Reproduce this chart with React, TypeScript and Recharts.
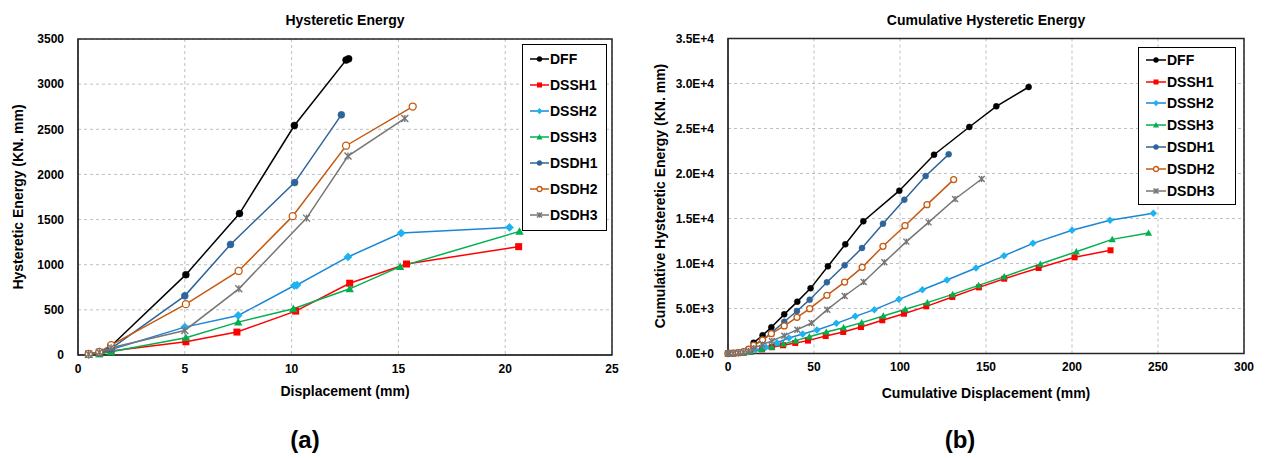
import React from 'react';
import {
  LineChart,
  Line,
  XAxis,
  YAxis,
  CartesianGrid,
  ReferenceArea,
} from 'recharts';

const FONT = '"Liberation Sans", Arial, sans-serif';

type Pt = { x: number; y: number };
const pts = (rows: number[][]): Pt[] => rows.map(([x, y]) => ({ x, y }));

// (a) hysteretic energy per displacement level
const dffHE = pts([[0.5, 10], [1.0, 30], [1.55, 100], [5.05, 890], [7.56, 1567], [10.13, 2542], [12.55, 3267], [12.67, 3280]]);
const dssh1HE = pts([[0.5, 5], [1.0, 15], [1.55, 45], [5.05, 147], [7.44, 254], [10.19, 486], [12.72, 795], [15.38, 1008], [20.63, 1200]]);
const dssh2HE = pts([[0.5, 5], [1.0, 20], [1.55, 60], [5.0, 309], [7.5, 438], [10.13, 769], [10.25, 775], [12.64, 1086], [15.13, 1351], [20.2, 1413]]);
const dssh3HE = pts([[0.5, 5], [1.0, 12], [1.55, 35], [5.05, 192], [7.5, 364], [10.08, 512], [12.72, 733], [15.08, 979], [20.67, 1369]]);
const dsdh1HE = pts([[0.5, 10], [1.0, 25], [1.55, 70], [5.0, 655], [7.14, 1225], [10.14, 1910], [12.33, 2660]]);
const dsdh2HE = pts([[0.5, 12], [1.0, 35], [1.55, 110], [5.05, 563], [7.52, 931], [10.05, 1538], [12.55, 2318], [15.67, 2752]]);
const dsdh3HE = pts([[0.5, 10], [1.0, 30], [1.55, 80], [5.0, 272], [7.53, 733], [10.7, 1516], [12.64, 2204], [15.3, 2620]]);

// (b) cumulative hysteretic energy vs cumulative displacement
const dffCum = pts([[0, 0], [1, 10], [3, 40], [6, 100], [9, 200], [12, 500], [14.9, 1200], [20.1, 2020], [25.2, 2910], [32.7, 4350], [40.3, 5760], [48.0, 7240], [58.1, 9690], [68.2, 12130], [78.7, 14690], [99.6, 18090], [119.8, 22090], [140.3, 25170], [156.0, 27460], [174.8, 29610]]);
const dssh1Cum = pts([[0, 0], [1, 5], [3, 15], [6, 35], [9, 70], [13, 180], [19.8, 460], [25.5, 700], [32, 910], [39.1, 1170], [46.5, 1430], [56.8, 1940], [67, 2390], [77.3, 2940], [89.7, 3690], [102.3, 4420], [115.3, 5240], [130.4, 6280], [145.9, 7350], [160.6, 8310], [180.6, 9500], [201.5, 10690], [222.4, 11470]]);
const dssh2Cum = pts([[0, 0], [1, 5], [3, 20], [6, 50], [9, 100], [12, 200], [16, 400], [22, 700], [28.5, 1200], [35.4, 1720], [43.4, 2170], [51.7, 2610], [63.0, 3350], [74.0, 4130], [85.1, 4870], [99.4, 6020], [113.0, 7090], [127.3, 8170], [144.2, 9500], [160.5, 10870], [177.3, 12240], [200.0, 13690], [222.1, 14800], [247.3, 15580]]);
const dssh3Cum = pts([[0, 0], [1, 5], [3, 15], [6, 40], [9, 80], [13, 200], [19.5, 500], [25.5, 750], [32.2, 1060], [39.3, 1430], [47.3, 1870], [57.2, 2390], [67.2, 2870], [77.7, 3430], [90.3, 4170], [103.1, 4910], [115.9, 5650], [130.6, 6570], [145.7, 7570], [160.6, 8540], [181.6, 9940], [202.5, 11310], [223.4, 12680], [244.5, 13390]]);
const dsdh1Cum = pts([[0, 0], [1, 10], [3, 40], [6, 100], [9, 200], [12, 450], [14.9, 900], [20.1, 1500], [25.2, 2300], [32.7, 3530], [40.1, 4720], [47.5, 5980], [57.5, 7910], [67.8, 9800], [77.9, 11720], [90.1, 14420], [102.5, 17090], [114.9, 19720], [128.3, 22130]]);
const dsdh2Cum = pts([[0, 0], [1, 10], [3, 40], [6, 100], [9, 200], [12, 450], [14.9, 900], [20.1, 1500], [25.2, 2200], [32.7, 3060], [40.1, 4020], [47.5, 4980], [57.5, 6460], [67.8, 7940], [78.0, 9570], [90.1, 11910], [102.9, 14200], [115.7, 16540], [131.2, 19320]]);
const dsdh3Cum = pts([[0, 0], [1, 10], [3, 30], [6, 80], [9, 150], [12, 300], [15, 600], [20, 1000], [25.5, 1400], [32.7, 1980], [40.3, 2650], [48.6, 3390], [57.7, 4870], [67.8, 6390], [78.9, 7940], [90.9, 10130], [103.7, 12430], [116.6, 14570], [132, 17170], [147.5, 19390]]);

const xTicksA = [0, 5, 10, 15, 20, 25];
const yTicksA = [0, 500, 1000, 1500, 2000, 2500, 3000, 3500];
const xTicksB = [0, 50, 100, 150, 200, 250, 300];
const yTicksB = [0, 5000, 10000, 15000, 20000, 25000, 30000, 35000];

type Marker = 'circle' | 'hollow' | 'square' | 'diamond' | 'triangle' | 'star';

interface SeriesDef {
  name: string;
  line: string;
  fill: string;
  marker: Marker;
}

const SERIES: SeriesDef[] = [
  { name: 'DFF', line: '#000000', fill: '#000000', marker: 'circle' },
  { name: 'DSSH1', line: '#FF0000', fill: '#FF0000', marker: 'square' },
  { name: 'DSSH2', line: '#1B86D6', fill: '#1CB4F0', marker: 'diamond' },
  { name: 'DSSH3', line: '#00B050', fill: '#00B050', marker: 'triangle' },
  { name: 'DSDH1', line: '#2E6499', fill: '#2E6499', marker: 'circle' },
  { name: 'DSDH2', line: '#C55A11', fill: '#FFFFFF', marker: 'hollow' },
  { name: 'DSDH3', line: '#767676', fill: '#767676', marker: 'star' },
];

const dataA = [dffHE, dssh1HE, dssh2HE, dssh3HE, dsdh1HE, dsdh2HE, dsdh3HE];
const dataB = [dffCum, dssh1Cum, dssh2Cum, dssh3Cum, dsdh1Cum, dsdh2Cum, dsdh3Cum];

function MarkerShape({ s, cx, cy, r }: { s: SeriesDef; cx: number; cy: number; r: number }) {
  switch (s.marker) {
    case 'circle':
      return <circle cx={cx} cy={cy} r={r} fill={s.fill} stroke={s.line} strokeWidth={0.5} />;
    case 'hollow':
      return <circle cx={cx} cy={cy} r={r} fill="#fff" stroke={s.line} strokeWidth={1.3} />;
    case 'square':
      return <rect x={cx - r} y={cy - r} width={2 * r} height={2 * r} fill={s.fill} />;
    case 'diamond': {
      const d = r * 1.25;
      return <polygon points={`${cx},${cy - d} ${cx + d},${cy} ${cx},${cy + d} ${cx - d},${cy}`} fill={s.fill} />;
    }
    case 'triangle': {
      const d = r * 1.2;
      return <polygon points={`${cx},${cy - d} ${cx + d},${cy + d * 0.8} ${cx - d},${cy + d * 0.8}`} fill={s.fill} />;
    }
    case 'star': {
      const d = r;
      return (
        <g stroke={s.line} strokeWidth={1.4}>
          <line x1={cx - d} y1={cy - d} x2={cx + d} y2={cy + d} />
          <line x1={cx - d} y1={cy + d} x2={cx + d} y2={cy - d} />
          <line x1={cx} y1={cy - d} x2={cx} y2={cy + d} />
        </g>
      );
    }
  }
  return null;
}

const dotFor = (s: SeriesDef, r: number) => (props: any) => {
  const { cx, cy, index } = props;
  if (cx == null || cy == null) return <g key={`d${index}`} />;
  return (
    <g key={`d${index}`}>
      <MarkerShape s={s} cx={cx} cy={cy} r={r} />
    </g>
  );
};

const tickStyle = { fontSize: 12, fontWeight: 700, fill: '#000', fontFamily: FONT };

function LegendBox({ left, top, width, rowH, lineW }: { left: number; top: number; width: number; rowH: number; lineW: number }) {
  return (
    <div
      style={{
        position: 'absolute',
        left,
        top,
        width,
        background: '#fff',
        border: '1.5px solid #000',
        boxSizing: 'border-box',
        padding: '1px 0 2px 7px',
        fontFamily: FONT,
        fontWeight: 700,
        fontSize: 14,
      }}
    >
      {SERIES.map((s) => (
        <div key={s.name} style={{ height: rowH, display: 'flex', alignItems: 'center' }}>
          <svg width={lineW} height={10} style={{ display: 'block' }}>
            <line x1={0} y1={5} x2={lineW} y2={5} stroke={s.line} strokeWidth={1.5} />
            <MarkerShape s={s} cx={lineW / 2} cy={5} r={2.5} />
          </svg>
          <span style={{ marginLeft: 1 }}>{s.name}</span>
        </div>
      ))}
    </div>
  );
}

const textBase: React.CSSProperties = {
  position: 'absolute',
  fontFamily: FONT,
  fontWeight: 700,
  whiteSpace: 'nowrap',
  color: '#000',
};

function Label({ text, x, y, size, rotate }: { text: string; x: number; y: number; size: number; rotate?: boolean }) {
  return (
    <div
      style={{
        ...textBase,
        left: x,
        top: y,
        fontSize: size,
        transform: `translate(-50%, -50%)${rotate ? ' rotate(-90deg)' : ''}`,
      }}
    >
      {text}
    </div>
  );
}

const expFmt = (v: number) => v.toExponential(1).replace('e', 'E');

export default function App() {
  return (
    <div style={{ position: 'absolute', left: 0, top: 0, width: 1267, height: 458, background: '#fff' }}>
      <div style={{ position: 'absolute', left: 0, top: 0 }}>
        <LineChart width={640} height={400} margin={{ top: 39, right: 28, left: 0, bottom: 14 }}>
          <CartesianGrid stroke="#BFBFBF" strokeDasharray="3 3" />
          <XAxis type="number" dataKey="x" domain={[0, 25]} ticks={xTicksA} tick={tickStyle} tickLine={false} tickSize={6} tickMargin={3} height={31} axisLine={{ stroke: '#262626' }} allowDuplicatedCategory={false} />
          <YAxis type="number" dataKey="y" domain={[0, 3500]} ticks={yTicksA} tick={tickStyle} tickLine={false} tickSize={6} tickMargin={8} width={78} axisLine={{ stroke: '#262626' }} />
          <ReferenceArea x1={0} x2={25} y1={0} y2={3500} fill="none" stroke="#262626" strokeWidth={1.5} />
          {SERIES.map((s, i) => (
            <Line key={s.name} data={dataA[i]} dataKey="y" name={s.name} type="linear" stroke={s.line} strokeWidth={1.5} dot={dotFor(s, 3.5)} activeDot={false} isAnimationActive={false} />
          ))}
        </LineChart>
      </div>
      <div style={{ position: 'absolute', left: 640, top: 0 }}>
        <LineChart width={627} height={400} margin={{ top: 38.5, right: 23, left: 0, bottom: 15.5 }}>
          <CartesianGrid stroke="#BFBFBF" strokeDasharray="3 3" />
          <XAxis type="number" dataKey="x" domain={[0, 300]} ticks={xTicksB} tick={tickStyle} tickLine={false} tickSize={6} tickMargin={3} height={31} axisLine={{ stroke: '#262626' }} allowDuplicatedCategory={false} />
          <YAxis type="number" dataKey="y" domain={[0, 35000]} ticks={yTicksB} tickFormatter={expFmt} tick={tickStyle} tickLine={false} tickSize={6} tickMargin={8} width={88} axisLine={{ stroke: '#262626' }} />
          <ReferenceArea x1={0} x2={300} y1={0} y2={35000} fill="none" stroke="#262626" strokeWidth={1.5} />
          {SERIES.map((s, i) => (
            <Line key={s.name} data={dataB[i]} dataKey="y" name={s.name} type="linear" stroke={s.line} strokeWidth={1.5} dot={dotFor(s, 3)} activeDot={false} isAnimationActive={false} />
          ))}
        </LineChart>
      </div>

      <LegendBox left={522} top={44} width={85} rowH={26} lineW={19} />
      <LegendBox left={1138} top={47} width={98} rowH={21.8} lineW={20} />

      <Label text="Hysteretic Energy" x={345} y={20} size={14} />
      <Label text="Cumulative Hysteretic Energy" x={986} y={20} size={14} />
      <Label text="Hysteretic Energy (KN. mm)" x={18} y={197} size={14} rotate />
      <Label text="Cumulative Hysteretic Energy (KN. mm)" x={660} y={196} size={14} rotate />
      <Label text="Displacement (mm)" x={345} y={391} size={14} />
      <Label text="Cumulative Displacement (mm)" x={986} y={393} size={14} />
      <Label text="(a)" x={305} y={440} size={24} />
      <Label text="(b)" x={960} y={440} size={24} />
    </div>
  );
}
